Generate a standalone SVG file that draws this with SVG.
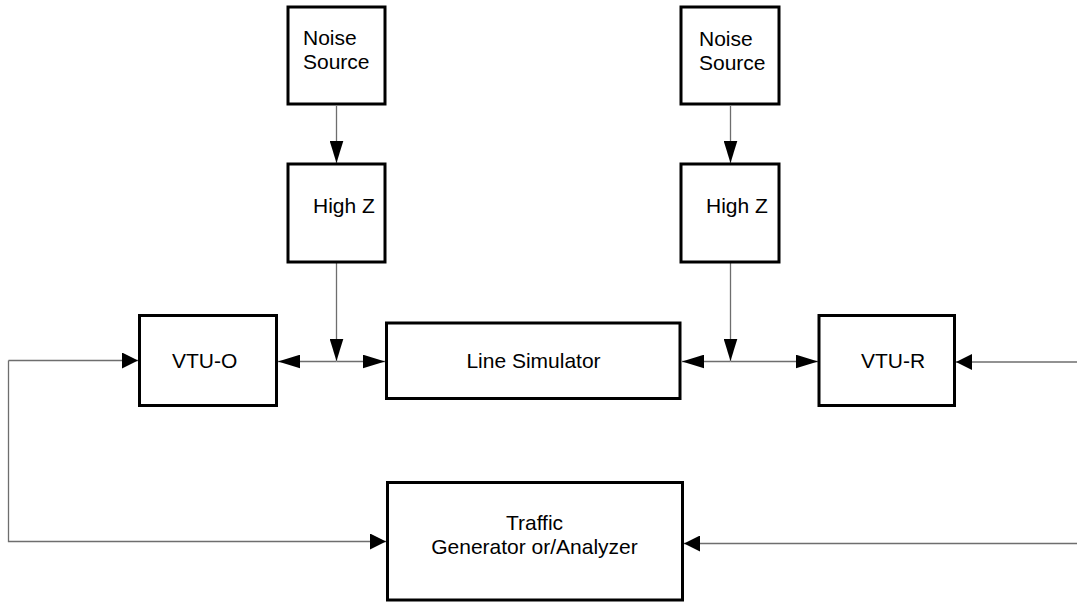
<svg xmlns="http://www.w3.org/2000/svg" width="1077" height="604" viewBox="0 0 1077 604">
<style>
.box{fill:#fff;stroke:#000;stroke-width:3}
.t{font-family:"Liberation Sans",Arial,sans-serif;font-size:21px;fill:#000}
.c{fill:none;stroke:#6e6e6e;stroke-width:1.3}
</style>
<defs>
<marker id="a" markerUnits="userSpaceOnUse" markerWidth="22" markerHeight="14" viewBox="0 0 21 13" refX="21" refY="6.5" orient="auto">
<path d="M0,0 L21,6.5 L0,13 Z" fill="#000"/>
</marker>
<marker id="b" markerUnits="userSpaceOnUse" markerWidth="16" markerHeight="16" viewBox="0 0 15 15" refX="15" refY="7.5" orient="auto">
<path d="M0,0 L15,7.5 L0,15 Z" fill="#000"/>
</marker>
</defs>
<g id="connectors">
<line class="c" x1="336.5" y1="106" x2="336.5" y2="163" marker-end="url(#a)"/>
<line class="c" x1="730.5" y1="106" x2="730.5" y2="163" marker-end="url(#a)"/>
<line class="c" x1="336.5" y1="263" x2="336.5" y2="361" marker-end="url(#a)"/>
<line class="c" x1="730.5" y1="263" x2="730.5" y2="361" marker-end="url(#a)"/>
<line class="c" x1="336.5" y1="361.5" x2="278" y2="361.5" marker-end="url(#a)"/>
<line class="c" x1="336.5" y1="361.5" x2="385" y2="361.5" marker-end="url(#a)"/>
<line class="c" x1="730.5" y1="361.5" x2="682" y2="361.5" marker-end="url(#a)"/>
<line class="c" x1="730.5" y1="361.5" x2="818" y2="361.5" marker-end="url(#a)"/>
<path class="c" d="M8.5,360.5 H138" marker-end="url(#b)"/>
<path class="c" d="M8.5,360.5 V541.5 H386" marker-end="url(#b)"/>
<line class="c" x1="1077" y1="362" x2="956" y2="362" marker-end="url(#b)"/>
<line class="c" x1="1077" y1="543.5" x2="684" y2="543.5" marker-end="url(#b)"/>
</g>
<g id="noise-left">
<rect class="box" x="288" y="7" width="97" height="97"/>
<text class="t" x="303" y="45">Noise</text>
<text class="t" x="303" y="69">Source</text>
</g>
<g id="noise-right">
<rect class="box" x="681" y="7" width="98" height="97"/>
<text class="t" x="699" y="46">Noise</text>
<text class="t" x="699" y="70">Source</text>
</g>
<g id="highz-left">
<rect class="box" x="288" y="164" width="97" height="98"/>
<text class="t" x="313" y="213">High Z</text>
</g>
<g id="highz-right">
<rect class="box" x="681" y="164" width="98" height="98"/>
<text class="t" x="706" y="213">High Z</text>
</g>
<g id="vtu-o">
<rect class="box" x="139.5" y="315.5" width="137" height="90"/>
<text class="t" x="172" y="368">VTU-O</text>
</g>
<g id="line-sim">
<rect class="box" x="386.5" y="323" width="293.5" height="75.5"/>
<text class="t" x="533.5" y="368" text-anchor="middle">Line Simulator</text>
</g>
<g id="vtu-r">
<rect class="box" x="819" y="315.5" width="135.5" height="90"/>
<text class="t" x="861" y="368">VTU-R</text>
</g>
<g id="traffic">
<rect class="box" x="387.5" y="482.5" width="295" height="117.5"/>
<text class="t" x="534.5" y="530" text-anchor="middle">Traffic</text>
<text class="t" x="534.5" y="554" text-anchor="middle">Generator or/Analyzer</text>
</g>
</svg>
